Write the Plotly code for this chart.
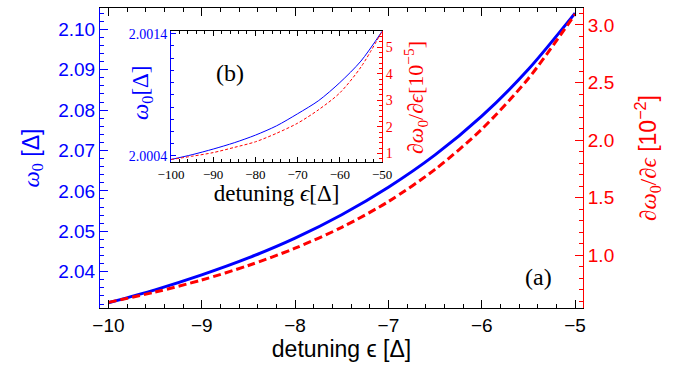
import plotly.graph_objects as go

# ---- data ----
eps_main = [-10, -9.5, -9, -8.5, -8, -7.5, -7, -6.5, -6, -5.5, -5]
omega_main = [2.0323, 2.0355, 2.0392, 2.0434, 2.0483, 2.0541, 2.0609, 2.0689, 2.0785, 2.0901, 2.1040]
deriv_main = [0.592, 0.681, 0.786, 0.912, 1.062, 1.243, 1.467, 1.746, 2.095, 2.535, 3.093]

eps_inset = [-100, -95, -90, -85, -80, -75, -70, -65, -60, -55, -50]
omega_inset = [2.000371, 2.000410, 2.000456, 2.000508, 2.000570, 2.000646, 2.000745,
               2.000853, 2.001000, 2.001176, 2.001419]
deriv_inset = [0.775, 0.898, 1.035, 1.23, 1.44, 1.76, 2.14, 2.65, 3.28, 4.25, 5.59]

BLUE = "#0000ff"
RED = "#ff0000"
SANS = "Liberation Sans"
SERIF = "Liberation Serif"

fig = go.Figure()
fig.add_trace(go.Scatter(x=eps_main, y=omega_main, mode="lines", xaxis="x", yaxis="y",
                         line=dict(color=BLUE, width=3, shape="spline", smoothing=0.8), showlegend=False))
fig.add_trace(go.Scatter(x=eps_main, y=deriv_main, mode="lines", xaxis="x", yaxis="y2",
                         line=dict(color=RED, width=3, dash="8px,4px", shape="spline", smoothing=0.8), showlegend=False))
fig.add_trace(go.Scatter(x=eps_inset, y=omega_inset, mode="lines", xaxis="x2", yaxis="y3",
                         line=dict(color=BLUE, width=1, shape="spline", smoothing=0.8), showlegend=False))
fig.add_trace(go.Scatter(x=eps_inset, y=deriv_inset, mode="lines", xaxis="x2", yaxis="y4",
                         line=dict(color=RED, width=1, dash="3px,2px", shape="spline", smoothing=0.8), showlegend=False))


def ax_common(color, ticklen, ticks="inside", tw=1):
    return dict(ticks=ticks, ticklen=ticklen, tickwidth=tw, tickcolor=color,
                showline=True, linecolor=color, linewidth=1,
                showgrid=False, zeroline=False, automargin=False, layer="above traces")


fig.update_layout(
    template="none",
    width=684, height=371,
    margin=dict(l=100, r=101, t=8, b=63, pad=0),
    paper_bgcolor="white", plot_bgcolor="white",
    showlegend=False,
    xaxis=dict(
        domain=[0, 1], anchor="y", range=[-10.09, -4.915], tickmode="linear", dtick=1, tick0=-10,
        mirror="ticks",
        minor=dict(dtick=0.2, tick0=-10, ticks="inside", ticklen=4, tickcolor="black", showgrid=False),
        tickfont=dict(family=SANS, size=19, color="black"),
        title=dict(text="detuning ϵ [Δ]", font=dict(family=SANS, size=23, color="black"), standoff=6),
        **ax_common("black", 8),
    ),
    yaxis=dict(
        domain=[0, 1], anchor="x", range=[2.03101, 2.10527], tickmode="linear", dtick=0.01, tick0=2.0,
        tickformat=".2f",
        minor=dict(dtick=0.002, tick0=2.0, ticks="inside", ticklen=4, tickcolor=BLUE, showgrid=False),
        tickfont=dict(family=SANS, size=19, color=BLUE),
        title=dict(text="<span style='font-family:Liberation Serif'><i>ω</i><sub>0</sub></span> [Δ]",
                   font=dict(family=SANS, size=23, color=BLUE), standoff=12),
        **ax_common(BLUE, 8),
    ),
    yaxis2=dict(
        overlaying="y", side="right", anchor="x", range=[0.543, 3.147], tickmode="linear", dtick=0.5, tick0=0,
        tickformat=".1f",
        minor=dict(dtick=0.1, tick0=0, ticks="inside", ticklen=4, tickcolor=RED, showgrid=False),
        tickfont=dict(family=SANS, size=19, color=RED),
        title=dict(text="<span style='font-family:Liberation Serif'><i>∂ω</i><sub>0</sub>/<i>∂ϵ</i></span> [10<sup>−2</sup>]",
                   font=dict(family=SANS, size=23, color=RED), standoff=26),
        **ax_common(RED, 8),
    ),
    xaxis2=dict(
        domain=[0.147, 0.584], anchor="y3", range=[-100, -50], tickmode="linear", dtick=10, tick0=-100,
        mirror="ticks",
        minor=dict(dtick=2, tick0=-100, ticks="inside", ticklen=3, tickcolor="black", showgrid=False),
        tickfont=dict(family=SERIF, size=13, color="black"),
        title=dict(text="detuning <i>ϵ</i>[Δ]", font=dict(family=SERIF, size=23, color="black"), standoff=0),
        **ax_common("black", 5),
    ),
    yaxis3=dict(
        domain=[0.487, 0.923], anchor="x2", range=[2.000351, 2.001421],
        tickmode="array", tickvals=[2.0004, 2.0014], tickformat=".4f",
        minor=dict(tickmode="linear", dtick=0.0001, tick0=2.0004, ticks="inside", ticklen=3,
                   tickcolor=BLUE, showgrid=False),
        tickfont=dict(family=SERIF, size=14, color=BLUE),
        **ax_common(BLUE, 5),
    ),
    yaxis4=dict(
        overlaying="y3", side="right", anchor="x2", range=[0.685, 5.60], tickmode="linear", dtick=1, tick0=0,
        minor=dict(dtick=0.2, tick0=0, ticks="inside", ticklen=3, tickcolor=RED, showgrid=False),
        tickfont=dict(family=SERIF, size=14, color=RED),
        **ax_common(RED, 5),
    ),
    annotations=[
        dict(text="(a)", x=0.907, y=0.103, xref="paper", yref="paper", showarrow=False,
             xanchor="center", yanchor="middle", font=dict(family=SERIF, size=24, color="black")),
        dict(text="(b)", x=0.269, y=0.783, xref="paper", yref="paper", showarrow=False,
             xanchor="center", yanchor="middle", font=dict(family=SERIF, size=24, color="black")),
        # inset axis titles
        dict(text="<i>ω</i><sub>0</sub>[Δ]", x=0.087, y=0.717, xref="paper", yref="paper",
             showarrow=False, textangle=-90, xanchor="center", yanchor="middle",
             font=dict(family=SERIF, size=23, color=BLUE)),
        dict(text="<i>∂ω</i><sub>0</sub>/<i>∂ϵ</i>[10<sup>−5</sup>]", x=0.652, y=0.703, xref="paper", yref="paper",
             showarrow=False, textangle=-90, xanchor="center", yanchor="middle",
             font=dict(family=SERIF, size=22, color=RED)),
    ],
)

fig.write_html("out.html")
